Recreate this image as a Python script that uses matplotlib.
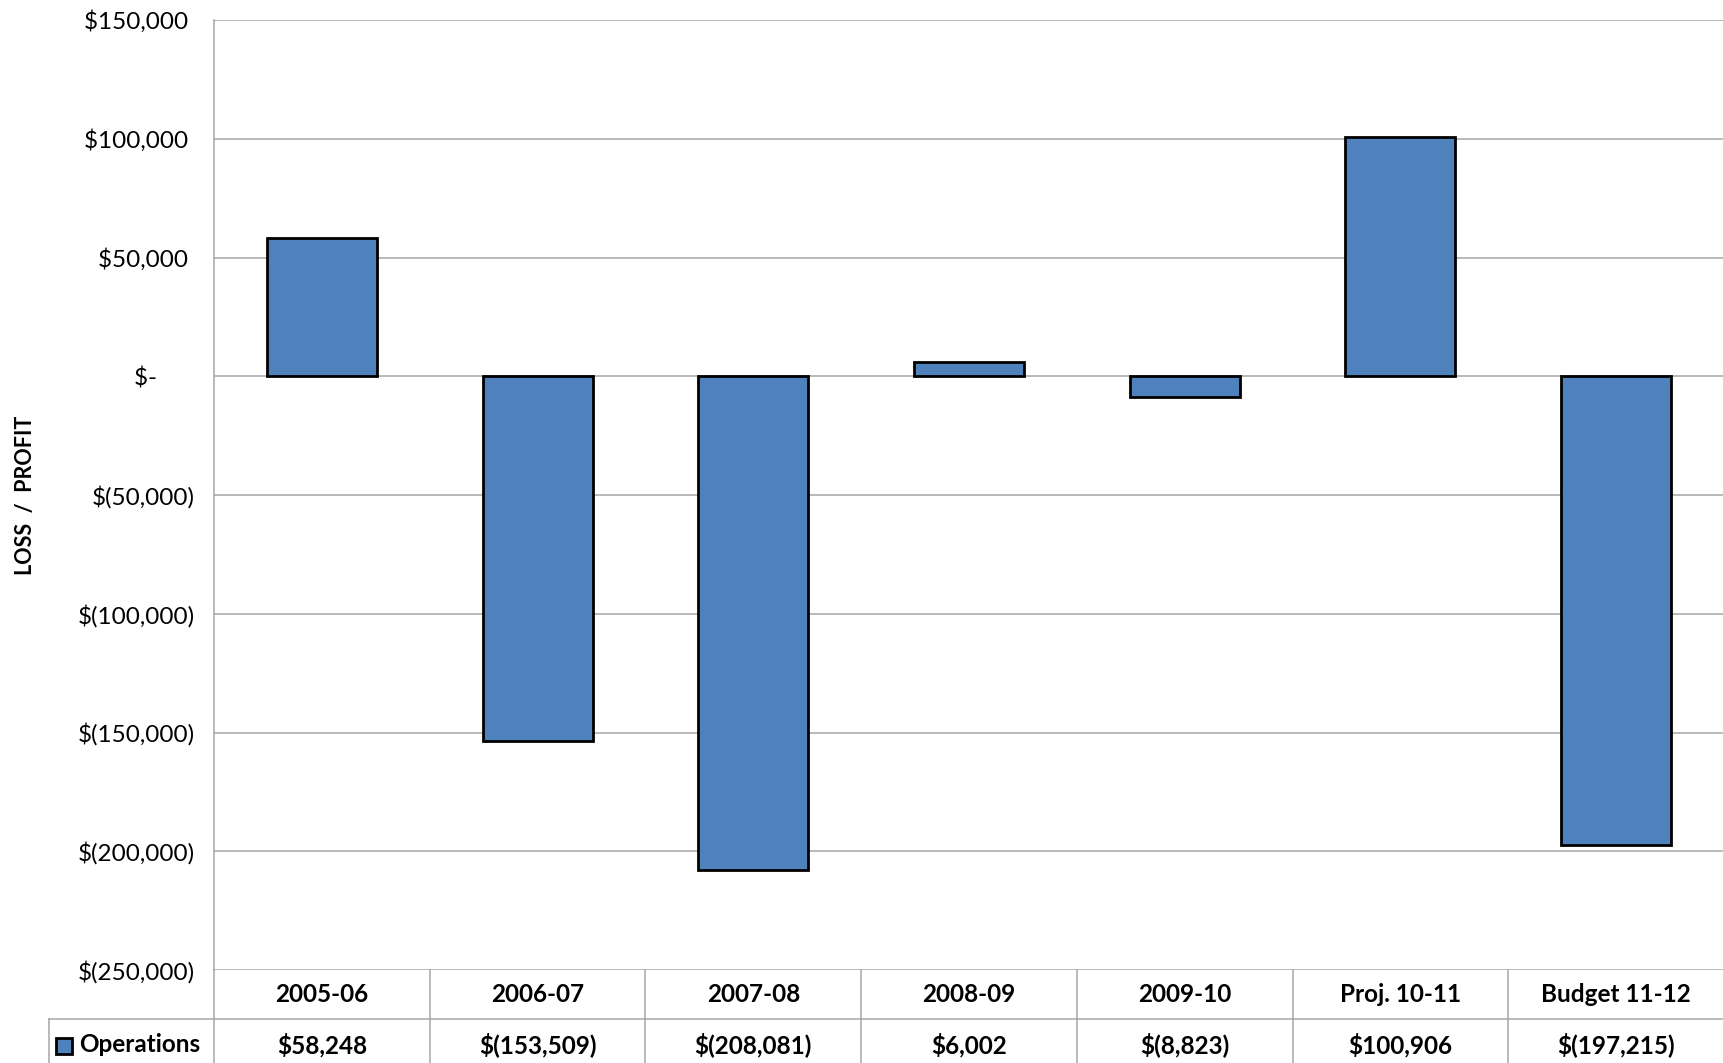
import matplotlib.pyplot as plt
from matplotlib.patches import Rectangle
import matplotlib.transforms as mtransforms

categories = ["2005-06", "2006-07", "2007-08", "2008-09", "2009-10", "Proj. 10-11", "Budget 11-12"]
operations = [58248, -153509, -208081, 6002, -8823, 100906, -197215]
series_name = "Operations"
y_ticks = [150000, 100000, 50000, 0, -50000, -100000, -150000, -200000, -250000]

bar_color = "#4F81BD"
grid_color = "#A6A6A6"
plt.rcParams["font.family"] = ["Lato", "DejaVu Sans"]


def money(v):
    if v == 0:
        return "$-      "
    if v < 0:
        return f"$({-v:,.0f})"
    return f"${v:,.0f} "


W, H = 1724, 1063
fig = plt.figure(figsize=(W / 100, H / 100), dpi=100)
left, top, bottom = 214, 20, 970
ax = fig.add_axes([left / W, (H - bottom) / H, (W - left) / W, (bottom - top) / H])

x = list(range(len(categories)))
ax.bar(x, operations, width=0.51, color=bar_color, edgecolor="black", linewidth=2, zorder=3)

ax.set_xlim(-0.5, len(categories) - 0.5)
ax.set_ylim(-250000, 150000)
ax.set_yticks(y_ticks)
ax.set_yticklabels([money(v) for v in y_ticks], fontsize=17.5)
ax.tick_params(axis="y", length=0, pad=14)
ax.set_xticks([])
ax.grid(axis="y", color=grid_color, linewidth=1.1, zorder=0)
for side in ["top", "right", "bottom"]:
    ax.spines[side].set_visible(False)
ax.spines["left"].set_color(grid_color)
ax.spines["left"].set_linewidth(1.1)
ax.set_ylabel("LOSS  /  PROFIT", fontsize=15.5, fontweight="bold", labelpad=30)

# data table under the chart
trans = mtransforms.blended_transform_factory(ax.transData, ax.transAxes)
h_ax = bottom - top
row1 = -(1019 - bottom) / h_ax
row2 = -(H - bottom) / h_ax
key_left = -0.5 + (49 - left) / ((W - left) / len(categories))

for k in range(len(categories) + 1):
    ax.plot([k - 0.5, k - 0.5], [0, row2], color=grid_color, lw=1.1, transform=trans, clip_on=False)
ax.plot([key_left, len(categories) - 0.5], [row1, row1], color=grid_color, lw=1.1,
        transform=trans, clip_on=False)
ax.plot([key_left, key_left], [row1, row2], color=grid_color, lw=1.1, transform=trans, clip_on=False)

for i, (c, v) in enumerate(zip(categories, operations)):
    ax.text(i, row1 / 2, c, transform=trans, ha="center", va="center",
            fontsize=17.5, fontweight="bold", clip_on=False)
    ax.text(i, (row1 + row2) / 2 - 0.004, money(v).strip(), transform=trans, ha="center",
            va="center", fontsize=17.5, fontweight="bold", clip_on=False)

fig.patches.append(Rectangle((56 / W, (H - 1054) / H), 16 / W, 16 / H, transform=fig.transFigure,
                             facecolor=bar_color, edgecolor="black", linewidth=2))
fig.text(79 / W, (H - 1045) / H, series_name, ha="left", va="center", fontsize=17.5, fontweight="bold")

fig.savefig("out.png", dpi=100)
